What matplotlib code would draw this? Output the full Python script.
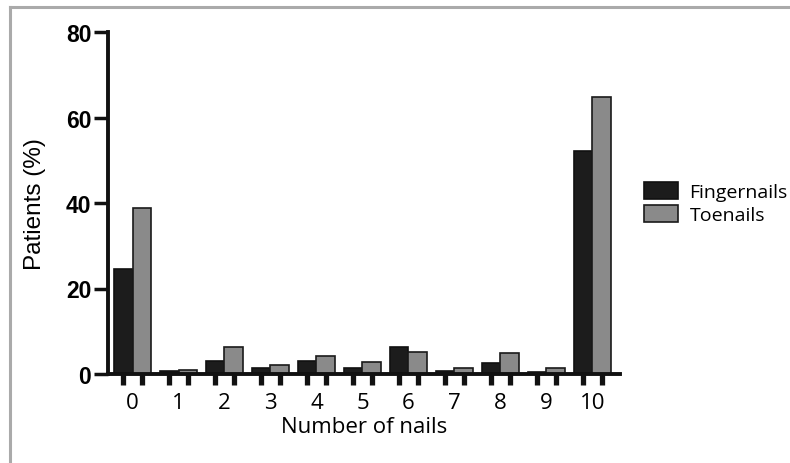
import numpy as np
import matplotlib
matplotlib.use("Agg")
from matplotlib import pyplot as plt
from matplotlib.lines import Line2D

# number of affected nails and % of patients
nails = [0, 1, 2, 3, 4, 5, 6, 7, 8, 9, 10]
fingernails = [24.6, 0.8, 3.0, 1.4, 3.0, 1.3, 6.3, 0.8, 2.5, 0.5, 52.2]
toenails = [38.8, 1.0, 6.3, 2.1, 4.3, 2.8, 5.1, 1.4, 4.8, 1.5, 64.9]
yticks = [0, 20, 40, 60, 80]

fig = plt.figure(figsize=(7.9, 4.64), dpi=100)
ax = fig.add_axes([108/790, 1 - 375/464, 512/790, 342/464])

x = np.array(nails)
w = 0.41
ax.bar(x - w/2, fingernails, w, color='#1c1c1c', edgecolor='#111111', linewidth=1.2, label='Fingernails')
ax.bar(x + w/2, toenails, w, color='#8a8a8a', edgecolor='#1a1a1a', linewidth=1.2, label='Toenails')

ax.set_xlim(-0.533, 10.6)
ax.set_ylim(0, 80)
ax.set_yticks(yticks)
ax.set_yticklabels([str(v) for v in yticks], fontsize=16.5, fontweight='bold', family='Liberation Sans')

# labels at group centres, tick marks at each bar
ax.set_xticks(x)
ax.set_xticklabels([str(v) for v in nails], fontsize=16, family='Open Sans')
ax.tick_params(axis='x', which='major', length=0, pad=13)
ax.set_xticks(np.concatenate([x - w/2, x + w/2]), minor=True)
ax.tick_params(axis='x', which='minor', length=8, width=3.8, color='#111111')
ax.tick_params(axis='y', length=10, width=2.5, color='#111111', pad=2)

for s in ['top', 'right']:
    ax.spines[s].set_visible(False)
for s in ['left', 'bottom']:
    ax.spines[s].set_linewidth(2.8)
    ax.spines[s].set_color('#111111')

ax.set_ylabel('Patients (%)', fontsize=17.5, family='Liberation Sans', labelpad=14)
ax.set_xlabel('Number of nails', fontsize=16, family='Open Sans', labelpad=2)

ax.legend(loc='upper left', bbox_to_anchor=(528/512, 0.585), frameon=False,
          prop={'family': 'Open Sans', 'size': 14}, handlelength=1.75,
          handleheight=1.0, handletextpad=0.6, labelspacing=0.2, borderaxespad=0)

# grey frame on top and left of the picture
fig.add_artist(Line2D([10/790, 1], [1 - 8/464, 1 - 8/464], color='#aaaaaa', lw=2.2, transform=fig.transFigure))
fig.add_artist(Line2D([10/790, 10/790], [0, 1 - 8/464], color='#aaaaaa', lw=2.2, transform=fig.transFigure))

fig.savefig('out.png', dpi=100)
